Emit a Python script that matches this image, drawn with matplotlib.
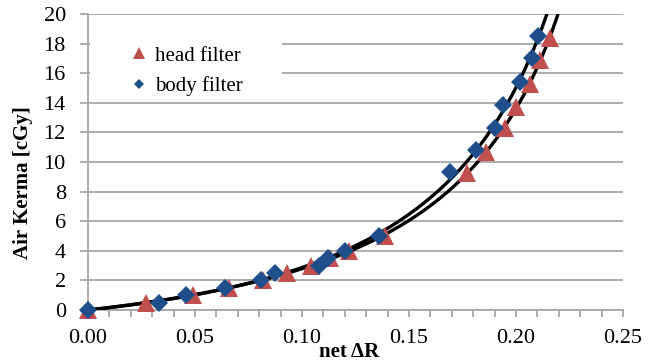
import numpy as np
import matplotlib
matplotlib.use("Agg")
import matplotlib.pyplot as plt
from matplotlib.ticker import MultipleLocator, FormatStrFormatter
from matplotlib.lines import Line2D
from matplotlib.patches import Rectangle

# ---- data ----
head_x = [0.000, 0.027, 0.049, 0.066, 0.082, 0.093, 0.104, 0.113, 0.122, 0.139,
          0.177, 0.186, 0.195, 0.200, 0.2065, 0.211, 0.216]
head_y = [0.0, 0.5, 1.0, 1.5, 2.0, 2.5, 3.0, 3.5, 4.0, 5.0,
          9.25, 10.7, 12.3, 13.7, 15.3, 16.9, 18.4]
body_x = [0.000, 0.033, 0.046, 0.064, 0.081, 0.0875, 0.108, 0.112, 0.120, 0.136,
          0.169, 0.1815, 0.190, 0.194, 0.202, 0.2073, 0.2104]
body_y = [0.0, 0.5, 1.0, 1.5, 2.0, 2.5, 3.0, 3.5, 4.0, 5.0,
          9.3, 10.8, 12.3, 13.85, 15.4, 17.0, 18.5]

x_ticks = [0.00, 0.05, 0.10, 0.15, 0.20, 0.25]
y_ticks = [0, 2, 4, 6, 8, 10, 12, 14, 16, 18, 20]

RED = "#C0504D"
BLUE = "#1F4E8A"
GRID = "#A6A6A6"

plt.rcParams["font.family"] = ["Liberation Serif", "DejaVu Serif"]


def fit_rational(x, y):
    # y = (a x + c x^2) / (1 - b x)  ->  y = a x + c x^2 + b x y (linear LSQ)
    x = np.asarray(x, float)
    y = np.asarray(y, float)
    A = np.column_stack([x, x ** 2, x * y])
    a, c, b = np.linalg.lstsq(A, y, rcond=None)[0]
    return lambda t: (a * t + c * t ** 2) / (1 - b * t), 1.0 / b


fig = plt.figure(figsize=(6.52, 3.62), dpi=100)
ax = fig.add_axes([88 / 652, 52 / 362, 535 / 652, 296 / 362])

ax.set_xlim(0, 0.25)
ax.set_ylim(0, 20)

# fitted curves
for xs, ys in [(head_x, head_y), (body_x, body_y)]:
    f, asym = fit_rational(xs, ys)
    t = np.linspace(0, min(asym - 1e-4, 0.25), 2000)
    v = f(t)
    m = v <= 21
    ax.plot(t[m], v[m], color="black", lw=2.4, zorder=3, solid_capstyle="butt")

ax.plot(head_x, head_y, linestyle="none", marker="^", ms=12.5, color=RED,
        markeredgewidth=0, zorder=4, clip_on=False)
ax.plot(body_x, body_y, linestyle="none", marker="D", ms=8.8, color=BLUE,
        markeredgewidth=0, zorder=5, clip_on=False)

# axes styling
for s in ["top", "right"]:
    ax.spines[s].set_visible(False)
for s in ["left", "bottom"]:
    ax.spines[s].set_color(GRID)
    ax.spines[s].set_linewidth(1.3)

ax.set_xticks(x_ticks)
ax.set_yticks(y_ticks)
ax.xaxis.set_minor_locator(MultipleLocator(0.01))
ax.xaxis.set_major_formatter(FormatStrFormatter("%.2f"))
ax.tick_params(axis="both", which="both", direction="out", color=GRID,
               width=1.3, length=5, labelsize=16, pad=9)
ax.tick_params(axis="y", length=6, pad=10)
ax.yaxis.grid(True, color=GRID, lw=1.3)
ax.set_axisbelow(True)

ax.set_ylabel("Air Kerma [cGy]", fontsize=15, fontweight="bold")
ax.yaxis.set_label_coords(-0.103, 0.429)
ax.set_xlabel("net ΔR", fontsize=15, fontweight="bold")
ax.xaxis.set_label_coords(0.488, -0.108)

# legend background box (covers gridlines like the original)
ax.add_patch(Rectangle((0.003, (310 - 97) / 296), (281 - 89) / 535, 66 / 296,
                       transform=ax.transAxes, facecolor="white",
                       edgecolor="none", zorder=2))
handles = [
    Line2D([], [], linestyle="none", marker="^", ms=8.5, color=RED, markeredgewidth=0),
    Line2D([], [], linestyle="none", marker="D", ms=5.5, color=BLUE, markeredgewidth=0),
]
leg = ax.legend(handles, ["head filter", "body filter"], loc="upper left",
                bbox_to_anchor=((131 - 88) / 535, (310 - 46) / 296),
                frameon=False, fontsize=15, handlelength=0.8, handletextpad=0.35,
                labelspacing=0.5, borderpad=0, borderaxespad=0)
leg.set_zorder(6)

fig.savefig("out.png", dpi=100)
